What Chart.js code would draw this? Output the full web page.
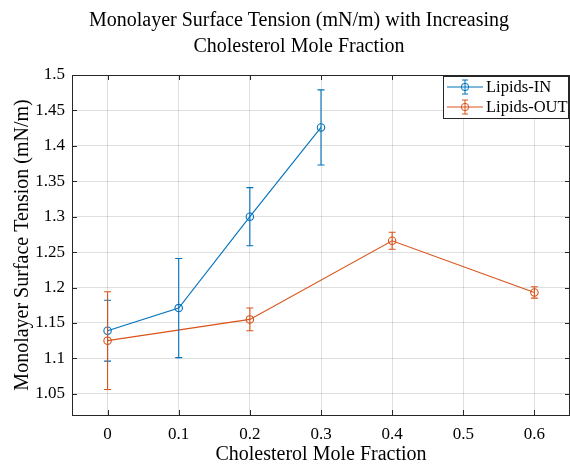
<!DOCTYPE html>
<html>
<head>
<meta charset="utf-8">
<script src="https://cdn.jsdelivr.net/npm/chart.js@4/dist/chart.umd.min.js"></script>
<style>
  html, body { margin: 0; padding: 0; background: #fff; overflow: hidden; }
  #wrap { width: 570px; height: 464px; }
</style>
</head>
<body>
<div id="wrap"><canvas id="tensionChart"></canvas></div>
<script>
// data
const xIn = [0, 0.1, 0.2, 0.3];
const yIn = [1.139, 1.171, 1.300, 1.426];
const errIn = [0.043, 0.070, 0.041, 0.053];

const xOut = [0, 0.2, 0.4, 0.6];
const yOut = [1.125, 1.155, 1.266, 1.193];
const errOut = [0.069, 0.016, 0.012, 0.008];

const xTicks = [0, 0.1, 0.2, 0.3, 0.4, 0.5, 0.6];
const yTicks = [1.05, 1.1, 1.15, 1.2, 1.25, 1.3, 1.35, 1.4, 1.45, 1.5];

const titleLines = ['Monolayer Surface Tension (mN/m) with Increasing', 'Cholesterol Mole Fraction'];

const blue = '#0072BD';
const orange = '#D95319';
const axisColor = '#262626';
const serif = "'Liberation Serif', 'Times New Roman', serif";

const ctx = document.getElementById('tensionChart');

// matlab style: box, inward ticks, error bars, legend inside, title
const matlabPlugin = {
  id: 'matlabStyle',
  afterDatasetsDraw(chart) {
    const c = chart.ctx;
    const xs = chart.scales.x, ys = chart.scales.y;
    chart.data.datasets.forEach((ds) => {
      c.save();
      c.strokeStyle = ds.borderColor;
      c.lineWidth = 1.1;
      ds.data.forEach((p, i) => {
        const px = xs.getPixelForValue(p.x);
        const top = ys.getPixelForValue(p.y + ds.errors[i]);
        const bot = ys.getPixelForValue(p.y - ds.errors[i]);
        c.beginPath();
        c.moveTo(px, top); c.lineTo(px, bot);
        c.moveTo(px - 3.5, top); c.lineTo(px + 3.5, top);
        c.moveTo(px - 3.5, bot); c.lineTo(px + 3.5, bot);
        c.stroke();
      });
      c.restore();
    });
  },
  afterDraw(chart) {
    const c = chart.ctx;
    const a = chart.chartArea;
    const xs = chart.scales.x, ys = chart.scales.y;
    c.save();
    c.strokeStyle = axisColor;
    c.lineWidth = 1;
    c.strokeRect(a.left + 0.5, a.top + 0.5, a.right - a.left - 1, a.bottom - a.top);
    // inward ticks
    c.beginPath();
    xTicks.forEach(v => {
      const px = Math.round(xs.getPixelForValue(v)) + 0.5;
      c.moveTo(px, a.bottom); c.lineTo(px, a.bottom - 5);
      c.moveTo(px, a.top); c.lineTo(px, a.top + 5);
    });
    yTicks.forEach(v => {
      const py = Math.round(ys.getPixelForValue(v)) + 0.5;
      c.moveTo(a.left, py); c.lineTo(a.left + 5, py);
      c.moveTo(a.right, py); c.lineTo(a.right - 5, py);
    });
    c.stroke();

    // title
    c.fillStyle = '#000';
    c.font = '20px ' + serif;
    c.textAlign = 'center';
    c.textBaseline = 'alphabetic';
    c.fillText(titleLines[0], 299, 26);
    c.fillText(titleLines[1], 299, 52);

    // legend
    const lx = 443, ly = 76, lw = 125, lh = 42;
    c.fillStyle = '#fff';
    c.fillRect(lx, ly, lw, lh);
    c.strokeStyle = axisColor;
    c.strokeRect(lx + 0.5, ly + 0.5, lw, lh);
    c.textBaseline = 'middle';
    chart.data.datasets.forEach((ds, i) => {
      const cy = ly + 11 + i * 20;
      c.strokeStyle = ds.borderColor;
      c.lineWidth = 1;
      c.beginPath();
      c.moveTo(lx + 4, cy); c.lineTo(lx + 40, cy);
      c.moveTo(lx + 22, cy - 7); c.lineTo(lx + 22, cy + 7);
      c.moveTo(lx + 19, cy - 7); c.lineTo(lx + 25, cy - 7);
      c.moveTo(lx + 19, cy + 7); c.lineTo(lx + 25, cy + 7);
      c.stroke();
      c.beginPath();
      c.arc(lx + 22, cy, 3.7, 0, Math.PI * 2);
      c.stroke();
      c.fillStyle = '#000';
      c.font = '16.5px ' + serif;
      c.textAlign = 'left';
      c.fillText(ds.label, lx + 43, cy + 1);
    });
    c.restore();
  }
};

new Chart(ctx, {
  type: 'line',
  data: {
    datasets: [
      {
        label: 'Lipids-IN',
        data: xIn.map((x, i) => ({ x: x, y: yIn[i] })),
        errors: errIn,
        borderColor: blue,
        backgroundColor: 'transparent',
        borderWidth: 1.1,
        pointRadius: 3.7,
        pointBorderWidth: 1.1,
        pointBackgroundColor: 'transparent',
        pointBorderColor: blue,
        tension: 0
      },
      {
        label: 'Lipids-OUT',
        data: xOut.map((x, i) => ({ x: x, y: yOut[i] })),
        errors: errOut,
        borderColor: orange,
        backgroundColor: 'transparent',
        borderWidth: 1.1,
        pointRadius: 3.7,
        pointBorderWidth: 1.1,
        pointBackgroundColor: 'transparent',
        pointBorderColor: orange,
        tension: 0
      }
    ]
  },
  options: {
    responsive: true,
    maintainAspectRatio: false,
    animation: false,
    layout: { autoPadding: false, padding: { top: 75, right: -1, left: 0, bottom: 0 } },
    scales: {
      x: {
        type: 'linear',
        min: -0.05,
        max: 0.65,
        afterBuildTicks: (s) => { s.ticks = xTicks.map(v => ({ value: v })); },
        afterFit: (s) => { s.height = 49; s.paddingLeft = 0; s.paddingRight = 0; },
        border: { display: true, color: axisColor, width: 1 },
        grid: { color: 'rgba(38,38,38,0.15)', drawTicks: false },
        ticks: {
          color: '#000',
          padding: 9,
          font: { family: serif, size: 17 },
          callback: (v) => String(+v.toFixed(2))
        },
        title: {
          display: true,
          text: 'Cholesterol Mole Fraction',
          color: '#000',
          font: { family: serif, size: 20 },
          padding: { top: 0, bottom: -3 }
        }
      },
      y: {
        type: 'linear',
        min: 1.02,
        max: 1.5,
        afterBuildTicks: (s) => { s.ticks = yTicks.map(v => ({ value: v })); },
        afterFit: (s) => { s.width = 72; },
        border: { display: true, color: axisColor, width: 1 },
        grid: { color: 'rgba(38,38,38,0.15)', drawTicks: false },
        ticks: {
          color: '#000',
          padding: 7,
          font: { family: serif, size: 17 },
          callback: (v) => String(+v.toFixed(2))
        },
        title: {
          display: true,
          text: 'Monolayer Surface Tension (mN/m)',
          color: '#000',
          font: { family: serif, size: 20 },
          padding: { top: 11, bottom: 0 }
        }
      }
    },
    plugins: {
      legend: { display: false },
      title: { display: false },
      tooltip: { enabled: false }
    }
  },
  plugins: [matlabPlugin]
});
</script>
</body>
</html>
